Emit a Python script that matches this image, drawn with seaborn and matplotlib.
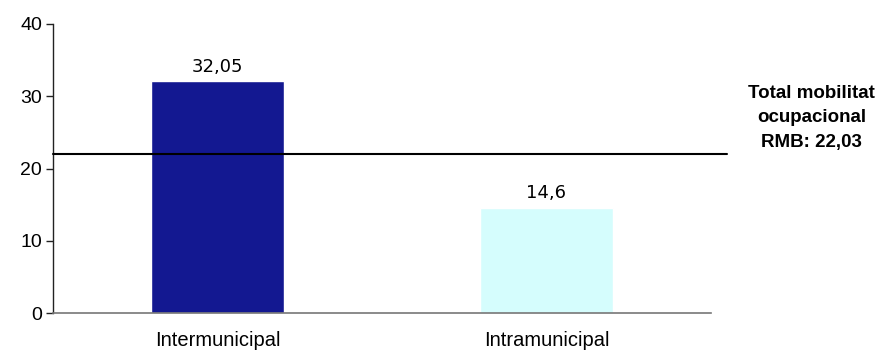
import matplotlib
matplotlib.use("Agg")
import matplotlib.pyplot as plt
import matplotlib.transforms as mtransforms
import seaborn as sns
import pandas as pd

categories = ["Intermunicipal", "Intramunicipal"]
values = [32.05, 14.6]
total_rmb = 22.03
total_label = "Total mobilitat\nocupacional\nRMB: 22,03"
bar_colors = ["#131891", "#D5FDFD"]
y_ticks = [0, 10, 20, 30, 40]

sns.set_style("white")
plt.rcParams["font.family"] = ["Liberation Sans", "DejaVu Sans"]

df = pd.DataFrame({"categoria": categories, "valor": values})

fig = plt.figure(figsize=(8.95, 3.56), dpi=100)
ax = fig.add_axes([53 / 895, 1 - 313 / 356, 658 / 895, 289 / 356])

sns.barplot(data=df, x="categoria", y="valor", hue="categoria",
            palette=bar_colors, width=0.405, legend=False, saturation=1,
            ax=ax)

ax.set_xlim(-0.5, 1.5)
ax.set_ylim(0, 40)
ax.set_yticks(y_ticks)
ax.set_yticklabels([str(t) for t in y_ticks], fontsize=14, color="black")
ax.set_xticks(range(len(categories)))
ax.set_xticklabels(categories, fontsize=14.5, color="black")
ax.set_xlabel("")
ax.set_ylabel("")

# category separators on the x axis
ax.set_xticks([-0.5, 0.5, 1.5], minor=True)
ax.tick_params(axis="x", which="major", length=0, pad=13)
ax.tick_params(axis="x", which="minor", length=5, width=1, color="#333333",
               direction="out")
ax.tick_params(axis="y", which="major", length=5, width=1, color="#222222",
               direction="out", left=True, pad=3)

for side in ["top", "right"]:
    ax.spines[side].set_visible(False)
ax.spines["left"].set_color("#222222")
ax.spines["bottom"].set_color("#777777")
ax.spines["left"].set_linewidth(1)
ax.spines["bottom"].set_linewidth(1.2)

# value labels above bars, decimal comma
for container in ax.containers:
    labels = [str(v).replace(".", ",") for v in container.datavalues]
    ax.bar_label(container, labels=labels, padding=4, fontsize=13,
                 family="DejaVu Sans", color="black")

# reference line for the metropolitan total
trans = mtransforms.blended_transform_factory(ax.transAxes, ax.transData)
ax.plot([0, 1.024], [total_rmb, total_rmb], transform=trans, color="black",
        linewidth=1.5, clip_on=False, zorder=5)

ax.text(1.153, 27.0, total_label, transform=trans, ha="center", va="center",
        fontsize=13.5, fontweight="bold", linespacing=1.6, color="black")

fig.savefig("out.png", dpi=100)
